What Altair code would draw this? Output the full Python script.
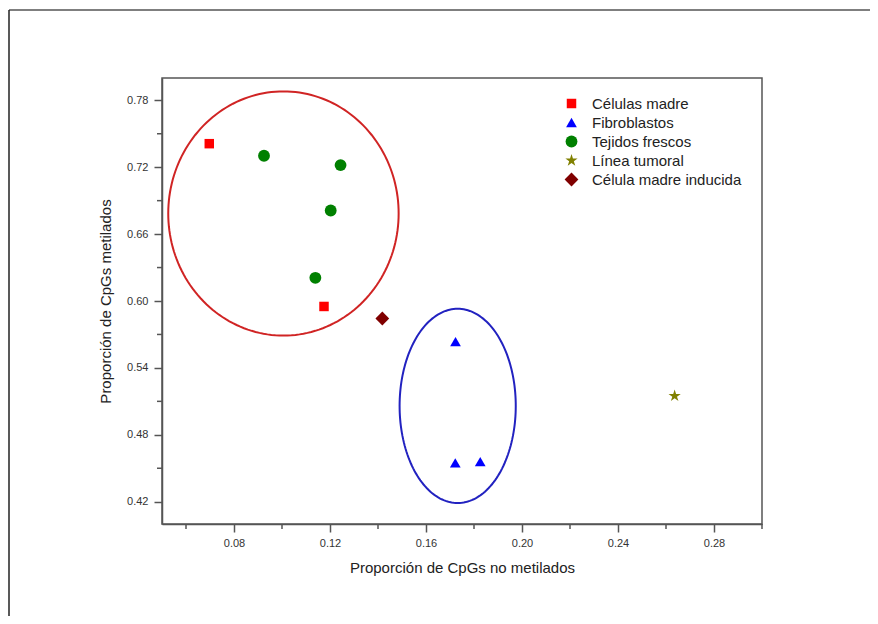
import altair as alt
import numpy as np
import pandas as pd

# ---- data ----
groups = ["Células madre", "Fibroblastos", "Tejidos frescos", "Línea tumoral", "Célula madre inducida"]
colors = ["#FF0000", "#0000FF", "#008000", "#808000", "#800000"]
STAR = ("M0,-1L0.2245,-0.309L0.9511,-0.309L0.3633,0.118L0.5878,0.809L0,0.382"
        "L-0.5878,0.809L-0.3633,0.118L-0.9511,-0.309L-0.2245,-0.309Z")
shapes = ["square", "triangle-up", "circle", STAR, "diamond"]
sizes = [90, 190, 85, 380, 115]

cm_x = [0.0697, 0.1175]
cm_y = [0.7411, 0.5951]
fb_x = [0.1723, 0.1722, 0.1826]
fb_y = [0.5636, 0.4548, 0.4559]
tf_x = [0.0925, 0.1244, 0.1203, 0.1139]
tf_y = [0.7303, 0.7219, 0.6812, 0.6208]
lt_x = [0.2636]
lt_y = [0.5149]
cmi_x = [0.1418]
cmi_y = [0.5843]

# cluster ellipses (centre, radii in data units)
ell_cx = [0.1006, 0.1732]
ell_cy = [0.6785, 0.5059]
ell_rx = [0.0480, 0.0242]
ell_ry = [0.1095, 0.0871]
ell_color = ["#D02424", "#2222C0"]

x_major = [0.08, 0.12, 0.16, 0.20, 0.24, 0.28]
x_minor = [0.06, 0.10, 0.14, 0.18, 0.22, 0.26, 0.30]
y_major = [0.42, 0.48, 0.54, 0.60, 0.66, 0.72, 0.78]
y_minor = [0.45, 0.51, 0.57, 0.63, 0.69, 0.75]

# ---- tables ----
rows = []
for g, xs, ys in zip(groups, [cm_x, fb_x, tf_x, lt_x, cmi_x], [cm_y, fb_y, tf_y, lt_y, cmi_y]):
    for a, b in zip(xs, ys):
        rows.append({"grupo": g, "x": a, "y": b})
pts = pd.DataFrame(rows)

W, H = 600, 446
FONT = "Liberation Sans"

xscale = alt.Scale(domain=[0.05, 0.30], nice=False, zero=False)
yscale = alt.Scale(domain=[0.40, 0.80], nice=False, zero=False)

x_axis = alt.Axis(values=x_major, format=".2f", tickSize=8,
                  title="Proporción de CpGs no metilados",
                  labelPadding=5, titlePadding=12, labelFlush=False)
y_axis = alt.Axis(values=y_major, format=".2f", tickSize=8,
                  title="Proporción de CpGs metilados",
                  labelPadding=6, titlePadding=13, labelFlush=False)

layers = []
theta = np.linspace(0, 2 * np.pi, 181)
for i in range(len(ell_cx)):
    e = pd.DataFrame({
        "x": ell_cx[i] + ell_rx[i] * np.cos(theta),
        "y": ell_cy[i] + ell_ry[i] * np.sin(theta),
        "k": np.arange(len(theta)),
    })
    layers.append(
        alt.Chart(e).mark_line(color=ell_color[i], strokeWidth=2).encode(
            x=alt.X("x:Q", scale=xscale, axis=x_axis),
            y=alt.Y("y:Q", scale=yscale, axis=y_axis),
            order="k:Q",
        )
    )

points = alt.Chart(pts).mark_point(filled=True, opacity=1, strokeWidth=0).encode(
    x=alt.X("x:Q", scale=xscale, axis=x_axis),
    y=alt.Y("y:Q", scale=yscale, axis=y_axis),
    color=alt.Color("grupo:N", scale=alt.Scale(domain=groups, range=colors),
                    legend=alt.Legend(title=None, orient="none", legendX=402, legendY=18,
                                      labelFontSize=15, labelFont=FONT, labelColor="#222",
                                      symbolSize=120, rowPadding=3, labelOffset=13,
                                      symbolStrokeWidth=0)),
    shape=alt.Shape("grupo:N", scale=alt.Scale(domain=groups, range=shapes)),
    size=alt.Size("grupo:N", scale=alt.Scale(domain=groups, range=sizes), legend=None),
)
layers.append(points)

# minor ticks, placed through the shared scales
xm = alt.Chart(pd.DataFrame({"x": x_minor})).mark_rule(color="#555", strokeWidth=1.5).encode(
    x=alt.X("x:Q", scale=xscale, axis=x_axis), y=alt.value(H), y2=alt.value(H + 5))
ym = alt.Chart(pd.DataFrame({"y": y_minor})).mark_rule(color="#555", strokeWidth=1.5).encode(
    y=alt.Y("y:Q", scale=yscale, axis=y_axis), x=alt.value(0), x2=alt.value(-5))
layers += [xm, ym]

# outer picture frame (left and top edges)
frame_top = alt.Chart(pd.DataFrame({"a": [0]})).mark_rule(color="#555", strokeWidth=1.5).encode(
    x=alt.value(-153), x2=alt.value(W + 108), y=alt.value(-68))
frame_left = alt.Chart(pd.DataFrame({"a": [0]})).mark_rule(color="#222", strokeWidth=1.5).encode(
    x=alt.value(-153), y=alt.value(-68), y2=alt.value(H + 92))
layers += [frame_top, frame_left]

chart = alt.layer(*layers).properties(
    width=W, height=H,
    autosize=alt.AutoSizeParams(type="none"),
    padding={"left": 154, "top": 70, "right": 108, "bottom": 92},
).configure_view(
    stroke="#555", strokeWidth=1.5
).configure_axis(
    labelFont=FONT, labelFontSize=11, labelColor="#333",
    titleFont=FONT, titleFontSize=15, titleColor="#222", titleFontWeight="normal",
    domainColor="#555", domainWidth=1.5, tickColor="#555", tickWidth=1.5,
    grid=False,
).configure_legend(labelFont=FONT)

chart.save("out.html", embed_options={"renderer": "svg", "actions": False})
